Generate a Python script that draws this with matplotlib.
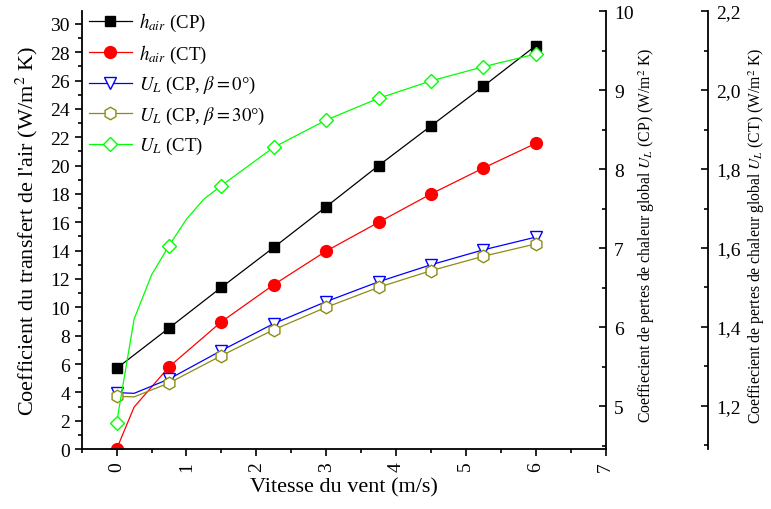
import numpy as np
import matplotlib
matplotlib.use('Agg')
import matplotlib.pyplot as plt
from matplotlib.ticker import MultipleLocator, FuncFormatter

plt.rcParams['font.family'] = ['Liberation Serif', 'DejaVu Serif']
plt.rcParams['mathtext.fontset'] = 'stix'

# wind speed (m/s)
v_cp = [0, 0.75, 1.5, 2.25, 3, 3.75, 4.5, 5.25, 6]
v_fine = [0, 0.25, 0.75, 1.5, 2.25, 3, 3.75, 4.5, 5.25, 6]
v_ct = [0, 0.25, 0.5, 0.75, 1.0, 1.25, 1.5, 2.25, 3, 3.75, 4.5, 5.25, 6]

# h_air (W/m2 K), left axis
h_cp = [5.69, 8.54, 11.41, 14.23, 17.1, 20.0, 22.8, 25.6, 28.46]
h_ct = [0.0, 2.96, 5.8, 8.98, 11.6, 13.97, 16.0, 18.0, 19.83, 21.57]

# U_L (CP) (W/m2 K), first right axis
ul_cp0 = [5.170, 5.161, 5.342, 5.703, 6.044, 6.322, 6.573, 6.788, 6.977, 7.138]
ul_cp30 = [5.123, 5.116, 5.292, 5.638, 5.967, 6.250, 6.503, 6.713, 6.896, 7.052]

# U_L (CT) (W/m2 K), second right axis
ul_ct = [1.158, 1.42, 1.532, 1.606, 1.673, 1.724, 1.758, 1.855, 1.924, 1.979,
         2.023, 2.059, 2.091]

# markers only on the measured speeds
mk_fine = [0] + list(range(2, len(v_fine)))
mk_ct = [0, 3] + list(range(6, len(v_ct)))

x_ticks = [0, 1, 2, 3, 4, 5, 6, 7]
h_ticks = list(range(0, 31, 2))
cp_ticks = [5, 6, 7, 8, 9, 10]
ct_ticks = [1.2, 1.4, 1.6, 1.8, 2.0, 2.2]

fig = plt.figure(figsize=(7.71, 5.1), dpi=100)
ax = fig.add_axes([0.106, 0.1176, 0.6794, 0.8588])
ax2 = ax.twinx()
ax3 = ax.twinx()

lw = 0.9
tsize = 14
l1, = ax.plot(v_cp, h_cp, '-', color='black', lw=lw, marker='s', ms=7.5,
              label='$h_{air}$ (CP)')
l2, = ax.plot(v_fine, h_ct, '-', color='red', lw=lw, marker='o', ms=8.5,
              markevery=mk_fine, label='$h_{air}$ (CT)')
l3, = ax2.plot(v_fine, ul_cp0, '-', color='blue', lw=lw, marker='v', ms=8.5,
               mfc='white', mew=1.0, markevery=mk_fine,
               label='$U_L$ (CP, $\\beta = 0$°)')
l4, = ax2.plot(v_fine, ul_cp30, '-', color='#8c8c14', lw=lw, marker='h',
               ms=9, mfc='white', mew=1.0, markevery=mk_fine,
               label='$U_L$ (CP, $\\beta = 30$°)')
l5, = ax3.plot(v_ct, ul_ct, '-', color='#00ff00', lw=lw, marker='D', ms=7,
               mfc='white', mew=1.0, markevery=mk_ct, label='$U_L$ (CT)')

# main axis
ax.set_xlim(-0.5, 7)
ax.set_ylim(0, 30.91)
ax.set_xticks(x_ticks)
ax.set_yticks(h_ticks)
ax.xaxis.set_minor_locator(MultipleLocator(0.5))
ax.yaxis.set_minor_locator(MultipleLocator(1))
ax.tick_params(axis='x', which='both', direction='out', labelrotation=90,
               labelsize=tsize)
ax.tick_params(axis='y', which='both', direction='out', labelsize=tsize)
ax.tick_params(which='major', length=5, width=1.2)
ax.tick_params(which='minor', length=3, width=1.2)
ax.spines['top'].set_visible(False)
ax.spines['right'].set_visible(False)
for s in ['left', 'bottom']:
    ax.spines[s].set_linewidth(1.3)
ax.set_xlabel('Vitesse du vent (m/s)', fontsize=16, labelpad=5)
ax.set_ylabel("Coefficient du transfert de l'air (W/m$^2$ K)", fontsize=16)
ax.yaxis.set_label_coords(-0.080, 0.50)

# U_L (CP) axis
ax2.set_ylim(4.456, 10)
ax2.set_yticks(cp_ticks)
ax2.yaxis.set_minor_locator(MultipleLocator(0.5))
ax2.tick_params(which='both', direction='in', labelsize=tsize, pad=6)
ax2.tick_params(which='major', length=5, width=1.2)
ax2.tick_params(which='minor', length=3, width=1.2)
for s in ['left', 'top', 'bottom']:
    ax2.spines[s].set_visible(False)
ax2.spines['right'].set_linewidth(1.3)
ax2.set_ylabel('Coeffiecient de pertes de chaleur global $U_L$ (CP) (W/m$^2$ K)',
               fontsize=11.3)
ax2.yaxis.set_label_coords(1.058, 0.49)

# U_L (CT) axis
ax3.set_ylim(1.091, 2.2)
ax3.set_yticks(ct_ticks)
ax3.yaxis.set_minor_locator(MultipleLocator(0.1))
ax3.yaxis.set_major_formatter(FuncFormatter(lambda v, p: f'{v:.1f}'.replace('.', ',')))
ax3.spines['right'].set_position(('axes', 1.1957))
ax3.tick_params(which='both', direction='in', labelsize=tsize, pad=6)
ax3.tick_params(which='major', length=5, width=1.2)
ax3.tick_params(which='minor', length=3, width=1.2)
for s in ['left', 'top', 'bottom']:
    ax3.spines[s].set_visible(False)
ax3.spines['right'].set_linewidth(1.3)
ax3.set_ylabel('Coeffiecient de pertes de chaleur global $U_L$ (CT) (W/m$^2$ K)',
               fontsize=11.3)
ax3.yaxis.set_label_coords(1.268, 0.49)

ax3.legend(handles=[l1, l2, l3, l4, l5], loc='upper left',
           bbox_to_anchor=(-0.008, 1.025), frameon=False, fontsize=13.5,
           handlelength=2.3, handletextpad=0.4, labelspacing=0.5,
           borderaxespad=0.2)

fig.savefig('out.png', dpi=100)
